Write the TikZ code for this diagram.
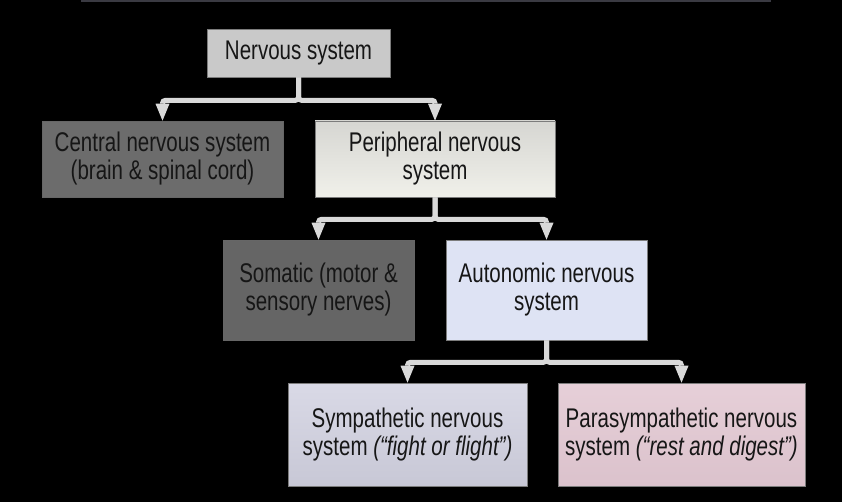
\documentclass[tikz,border=0pt]{standalone}
\usepackage{fontspec}
\setmainfont{Liberation Sans}[FakeStretch=0.76]
\usepackage{xcolor}
\usetikzlibrary{arrows.meta}
\definecolor{bandgray}{HTML}{3A3A42}
\definecolor{connline}{HTML}{D9D9D9}
\definecolor{boxline}{HTML}{7C7C7C}
\definecolor{boxtext}{HTML}{161616}
\definecolor{nsfill}{HTML}{C9C9C9}
\definecolor{darkfill}{HTML}{6C6C6C}
\definecolor{pnstop}{HTML}{D6D6D2}
\definecolor{pnsbot}{HTML}{F0F0EA}
\definecolor{ansfill}{HTML}{DEE3F4}
\definecolor{symtop}{HTML}{D9D9E6}
\definecolor{symbot}{HTML}{C8C8D6}
\definecolor{paratop}{HTML}{E6CFD8}
\definecolor{parabot}{HTML}{DBC2CC}

\begin{document}
\begin{tikzpicture}[x=1pt, y=-1pt,
    box/.style={draw=boxline, line width=0.6pt, inner sep=0pt, align=center,
      text=boxtext, font=\fontsize{27}{28}\selectfont},
    conn/.style={draw=connline, line width=5pt, rounded corners=3pt,
      -{Triangle[width=14pt,length=17pt,line width=0pt]}}]
	% background
	\fill[black] (0,0) rectangle (842,502);
	\fill[bandgray] (81,0) rectangle (771,2.5);
	\useasboundingbox (0,0) rectangle (842,502);
	% boxes
	\node[box, fill=nsfill, minimum width=183pt, minimum height=48pt] (ns) at (298.5,53) {Nervous system};
	\node[box, fill=darkfill, draw=black!60, minimum width=241pt, minimum height=76pt] (cns) at (162.5,159) {Central nervous system\\(brain \& spinal cord)};
	\node[box, top color=pnstop, bottom color=pnsbot, minimum width=240pt, minimum height=76pt] (pns) at (435,159) {Peripheral nervous\\system};
	\node[box, fill=darkfill!105, draw=black!60, minimum width=191pt, minimum height=100pt] (som) at (318.5,290) {Somatic (motor \&\\sensory nerves)};
	\node[box, fill=ansfill, minimum width=201pt, minimum height=100pt] (ans) at (546.5,290) {Autonomic nervous\\system};
	\node[box, top color=symtop, bottom color=symbot, minimum width=239pt, minimum height=103pt] (sym) at (407.5,434.5) {Sympathetic nervous\\system \textit{(“fight or flight”)}};
	\node[box, top color=paratop, bottom color=parabot, minimum width=247pt, minimum height=103pt] (para) at (681.5,434.5) {Parasympathetic nervous\\system \textit{(“rest and digest”)}};
	% connectors
	\draw[conn] (ns.south) -- ++(0,23) -| (cns.north);
	\draw[conn] (ns.south) -- ++(0,23) -| (pns.north);
	\draw[conn] (pns.south) -- ++(0,22) -| (som.north);
	\draw[conn] (pns.south) -- ++(0,22) -| (ans.north);
	\draw[conn] (ans.south) -- ++(0,22) -| (sym.north);
	\draw[conn] (ans.south) -- ++(0,22) -| (para.north);
\end{tikzpicture}
\end{document}
